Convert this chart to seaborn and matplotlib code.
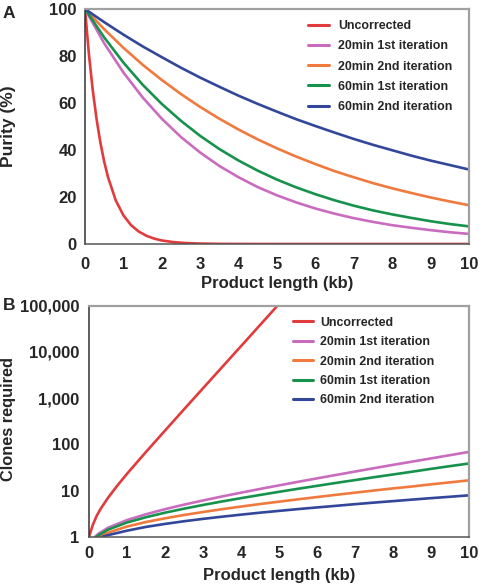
import numpy as np
import pandas as pd
import matplotlib
matplotlib.use("Agg")
import matplotlib.pyplot as plt
from matplotlib.ticker import FixedLocator, FixedFormatter, NullLocator
import seaborn as sns

# ---------------- data ----------------
series = ["Uncorrected", "20min 1st iteration", "20min 2nd iteration",
          "60min 1st iteration", "60min 2nd iteration"]
colors = ["#e23b3d", "#c96cbf", "#f07a3e", "#17924c", "#33479a"]

x_grid = [0, 0.5, 1, 1.5, 2, 2.5, 3, 3.5, 4, 4.5, 5, 5.5, 6, 6.5, 7,
          7.5, 8, 8.5, 9, 9.5, 10]

# Panel A: purity (%)
x_red_a = [0, 0.1, 0.2, 0.3, 0.4, 0.5, 0.6, 0.8, 1.0, 1.2, 1.4, 1.6, 1.8,
           2.0, 2.3, 2.6, 3.0, 3.5, 4, 5, 6, 7, 8, 9, 10]
purity_uncorrected = [100, 81.1, 65.7, 53.3, 43.2, 35.0, 28.4, 18.6, 12.2,
                      8.0, 5.3, 3.5, 2.3, 1.5, 0.8, 0.43, 0.18, 0.06, 0.02,
                      0, 0, 0, 0, 0, 0]
purity_20_1 = [100, 85.4, 73.0, 62.4, 53.3, 45.5, 38.9, 33.2, 28.4, 24.2,
               20.7, 17.7, 15.1, 12.9, 11.0, 9.4, 8.0, 6.9, 5.9, 5.0, 4.3]
purity_20_2 = [100, 91.4, 83.5, 76.3, 69.8, 63.8, 58.3, 53.3, 48.7, 44.5,
               40.7, 37.2, 34.0, 31.0, 28.4, 25.9, 23.7, 21.7, 19.8, 18.1, 16.5]
purity_60_1 = [100, 87.9, 77.2, 67.8, 59.6, 52.4, 46.0, 40.4, 35.5, 31.2,
               27.4, 24.1, 21.2, 18.6, 16.3, 14.3, 12.6, 11.1, 9.7, 8.5, 7.5]
purity_60_2 = [100, 94.4, 89.1, 84.1, 79.5, 75.0, 70.8, 66.9, 63.1, 59.6,
               56.3, 53.1, 50.2, 47.4, 44.7, 42.2, 39.9, 37.6, 35.5, 33.6, 31.7]

# Panel B: clones required
x_red_b = [0, 0.1, 0.2, 0.3, 0.5, 0.75, 1, 1.5, 2, 2.5, 3, 3.5, 4, 4.5, 5]
clones_uncorrected = [1, 1.8, 2.8, 3.94, 6.95, 12.9, 23.0, 68.4, 198, 571,
                      1632, 4660, 13300, 38070, 108900]
x_b = [0.16, 0.25, 0.5, 1, 1.5, 2, 2.5, 3, 3.5, 4, 4.5, 5, 5.5, 6, 6.5, 7,
       7.5, 8, 8.5, 9, 9.5, 10]
clones_20_1 = [1.0, 1.16, 1.56, 2.29, 3.06, 3.94, 4.94, 6.08, 7.43, 8.97,
               10.8, 12.9, 15.4, 18.3, 21.7, 25.7, 30.4, 35.9, 42.1, 49.5,
               58.2, 68.4]
x_b_60_1 = [0.2, 0.25, 0.5, 1, 1.5, 2, 2.5, 3, 3.5, 4, 4.5, 5, 5.5, 6, 6.5,
            7, 7.5, 8, 8.5, 9, 9.5, 10]
clones_60_1 = [1.0, 1.08, 1.42, 2.03, 2.64, 3.31, 4.04, 4.86, 5.79, 6.83,
               8.01, 9.36, 10.9, 12.6, 14.6, 16.8, 19.4, 22.2, 25.5, 29.4,
               33.7, 38.4]
x_b_20_2 = [0.27, 0.5, 1, 1.5, 2, 2.5, 3, 3.5, 4, 4.5, 5, 5.5, 6, 6.5, 7,
            7.5, 8, 8.5, 9, 9.5, 10]
clones_20_2 = [1.0, 1.22, 1.66, 2.08, 2.50, 2.95, 3.42, 3.94, 4.49, 5.09,
               5.73, 6.44, 7.21, 8.07, 8.97, 9.99, 11.1, 12.2, 13.6, 15.0,
               16.6]
x_b_60_2 = [0.36, 0.5, 1, 1.5, 2, 2.5, 3, 3.5, 4, 4.5, 5, 5.5, 6, 6.5, 7,
            7.5, 8, 8.5, 9, 9.5, 10]
clones_60_2 = [1.0, 1.08, 1.35, 1.63, 1.89, 2.16, 2.43, 2.71, 3.00, 3.31,
               3.62, 3.96, 4.30, 4.66, 5.06, 5.47, 5.89, 6.35, 6.83, 7.32,
               7.86]

x_ticks = [0, 1, 2, 3, 4, 5, 6, 7, 8, 9, 10]
purity_ticks = [0, 20, 40, 60, 80, 100]
clone_ticks = [1, 10, 100, 1000, 10000, 100000]
clone_tick_labels = ["1", "10", "100", "1,000", "10,000", "100,000"]

# ---------------- styling ----------------
sns.set_style("white")
plt.rcParams["font.family"] = ["Liberation Sans", "DejaVu Sans"]
plt.rcParams["font.weight"] = "bold"

W, H = 479, 586
fig = plt.figure(figsize=(W / 100, H / 100), dpi=100)
axA = fig.add_axes([85 / W, 1 - 244 / H, 384 / W, 235 / H])
axB = fig.add_axes([89 / W, 1 - 536.7 / H, 380 / W, 231 / H])

LW = 1.9
dark = "#333333"
grey = "#a0a0a0"

def long_df(xs_list, ys_list):
    frames = []
    for name, xs, ys in zip(series, xs_list, ys_list):
        frames.append(pd.DataFrame({"x": xs, "y": ys, "series": name}))
    return pd.concat(frames, ignore_index=True)

dfA = long_df([x_red_a, x_grid, x_grid, x_grid, x_grid],
              [purity_uncorrected, purity_20_1, purity_20_2, purity_60_1,
               purity_60_2])
dfB = long_df([x_red_b, x_b, x_b_20_2, x_b_60_1, x_b_60_2],
              [clones_uncorrected, clones_20_1, clones_20_2, clones_60_1,
               clones_60_2])
pal = dict(zip(series, colors))

sns.lineplot(data=dfA, x="x", y="y", hue="series", hue_order=series,
             palette=pal, linewidth=LW, ax=axA, sort=False, estimator=None)
sns.lineplot(data=dfB, x="x", y="y", hue="series", hue_order=series,
             palette=pal, linewidth=LW, ax=axB, sort=False, estimator=None)

# Panel A axes
axA.set_xlim(0, 10)
axA.set_ylim(0, 100)
axA.set_xticks(x_ticks)
axA.set_yticks(purity_ticks)
axA.set_xlabel("Product length (kb)", fontsize=12, fontweight="bold")
axA.set_ylabel("Purity (%)", fontsize=12.5, fontweight="bold")
axA.tick_params(axis="x", direction="in", length=4, width=1, color=dark,
                labelsize=12, pad=9.5)
axA.tick_params(axis="y", direction="out", length=4, width=1, color=dark,
                labelsize=12, pad=2)
axA.xaxis.set_label_coords(0.5, -0.136)
axA.yaxis.set_label_coords(-69 / 384, 0.5)

# Panel B axes
axB.set_yscale("log")
axB.set_xlim(0, 10)
axB.set_ylim(1, 100000)
axB.set_xticks(x_ticks)
axB.yaxis.set_major_locator(FixedLocator(clone_ticks))
axB.yaxis.set_major_formatter(FixedFormatter(clone_tick_labels))
axB.yaxis.set_minor_locator(NullLocator())
axB.set_xlabel("Product length (kb)", fontsize=12, fontweight="bold")
axB.set_ylabel("Clones required", fontsize=11.8, fontweight="bold")
axB.tick_params(axis="x", direction="out", length=4, width=1, color=dark,
                labelsize=12, pad=3)
axB.tick_params(axis="y", direction="out", length=5, width=1, color=dark,
                labelsize=12, pad=2)
axB.xaxis.set_label_coords(0.5, -0.135)
axB.yaxis.set_label_coords(-73 / 380, 0.51)

for ax in (axA, axB):
    for lab in ax.get_xticklabels() + ax.get_yticklabels():
        lab.set_fontweight("bold")
    ax.spines["left"].set_color(dark)
    ax.spines["bottom"].set_color("#555555")
    ax.spines["top"].set_color(grey)
    ax.spines["right"].set_color(grey)
    for s in ax.spines.values():
        s.set_linewidth(1.1)
    ax.spines["top"].set_linewidth(1.6)
    ax.spines["right"].set_linewidth(1.6)

legA = axA.legend(loc="upper right", bbox_to_anchor=(0.958, 0.952),
                  frameon=False, fontsize=8.9, handlelength=1.75,
                  handletextpad=0.75, labelspacing=0.66, borderaxespad=0,
                  borderpad=0)
legB = axB.legend(loc="upper right", bbox_to_anchor=(0.91, 0.952),
                  frameon=False, fontsize=8.9, handlelength=1.6,
                  handletextpad=0.6, labelspacing=0.6, borderaxespad=0,
                  borderpad=0)
for leg in (legA, legB):
    for t in leg.get_texts():
        t.set_fontweight("bold")
    for h in leg.get_lines():
        h.set_linewidth(2.2)

fig.text(3 / W, 1 - 13 / H, "A", fontsize=12.5, fontweight="bold",
         va="center", ha="left")
fig.text(3 / W, 1 - 306 / H, "B", fontsize=12.5, fontweight="bold",
         va="center", ha="left")

fig.savefig("out.png", dpi=100)
